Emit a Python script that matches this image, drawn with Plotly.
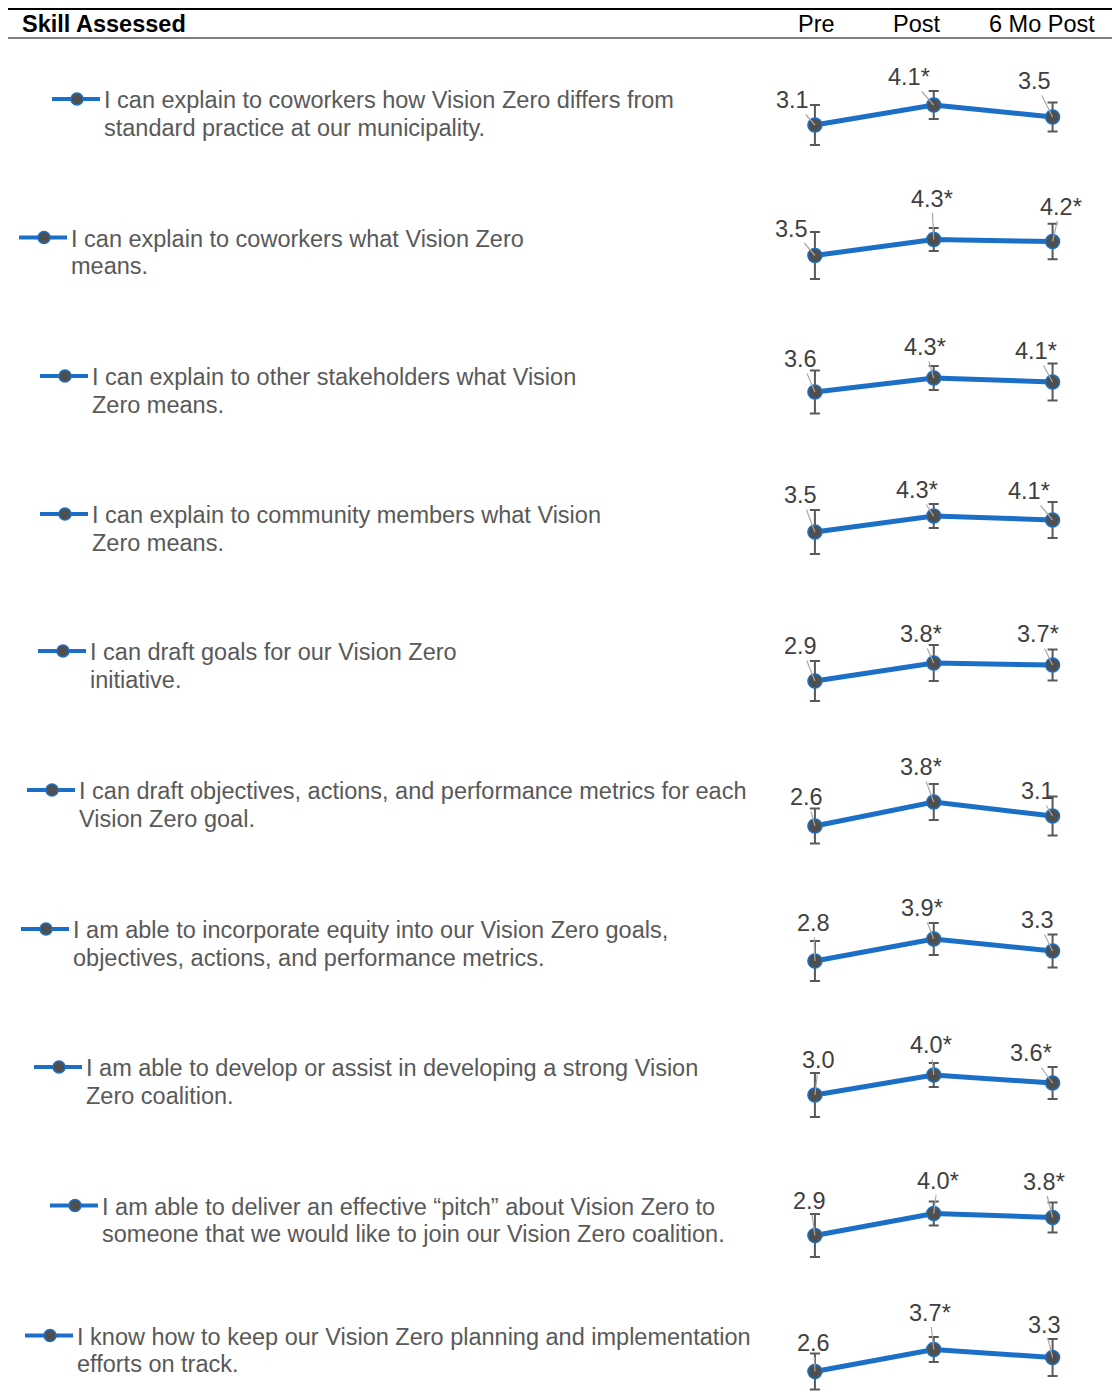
import plotly.graph_objects as go

# ---- data -------------------------------------------------------------
skills = [
    ["I can explain to coworkers how Vision Zero differs from", "standard practice at our municipality."],
    ["I can explain to coworkers what Vision Zero", "means."],
    ["I can explain to other stakeholders what Vision", "Zero means."],
    ["I can explain to community members what Vision", "Zero means."],
    ["I can draft goals for our Vision Zero", "initiative."],
    ["I can draft objectives, actions, and performance metrics for each", "Vision Zero goal."],
    ["I am able to incorporate equity into our Vision Zero goals,", "objectives, actions, and performance metrics."],
    ["I am able to develop or assist in developing a strong Vision", "Zero coalition."],
    ["I am able to deliver an effective \u201cpitch\u201d about Vision Zero to",
     "someone that we would like to join our Vision Zero coalition."],
    ["I know how to keep our Vision Zero planning and implementation", "efforts on track."],
]
periods = ["Pre", "Post", "6 Mo Post"]

pre_mean = [3.1, 3.5, 3.6, 3.5, 2.9, 2.6, 2.8, 3.0, 2.9, 2.6]
post_mean = [4.1, 4.3, 4.3, 4.3, 3.8, 3.8, 3.9, 4.0, 4.0, 3.7]
six_mo_mean = [3.5, 4.2, 4.1, 4.1, 3.7, 3.1, 3.3, 3.6, 3.8, 3.3]

pre_err = [1.0, 1.18, 1.08, 1.1, 1.0, 0.88, 1.0, 1.1, 1.08, 0.9]
post_err = [0.7, 0.58, 0.6, 0.6, 0.9, 0.9, 0.8, 0.6, 0.6, 0.62]
six_mo_err = [0.72, 0.89, 0.92, 0.9, 0.77, 0.97, 0.83, 0.8, 0.75, 0.93]

# significance vs. Pre (shown with an asterisk)
post_sig = [True] * 10
six_mo_sig = [False, True, True, True, True, False, False, True, True, False]

# ---- layout geometry (pixels) -----------------------------------------
W, H = 1112, 1393
row_anchor_px = [107, 245.5, 384, 522, 659, 798, 937, 1075, 1213.5, 1343.5]  # where y = 4 sits
text_x_px = [104, 71, 92, 92, 90, 79, 73, 86, 102, 77]
first_line_offset = -7   # first text line relative to anchor
line_gap = 27.5
px_per_unit = 20.0
top_px, bottom_px = 40, 48  # plot extent above / below the anchor

# label offsets (text centre relative to the point, pixels)
label_offsets = [
    [(-25, -25), (-28, -28), (-21, -36)],
    [(-26, -27), (-5, -41), (5, -35)],
    [(-17, -33), (-12, -31), (-20, -31)],
    [(-17, -37), (-20, -26), (-27, -29)],
    [(-17, -35), (-16, -29), (-18, -31)],
    [(-11, -29), (-16, -35), (-18, -25)],
    [(-4, -38), (-15, -31), (-18, -31)],
    [(1, -35), (-6, -30), (-25, -30)],
    [(-8, -35), (1, -33), (-12, -36)],
    [(-4, -29), (-7, -37), (-11, -33)],
]
label_dx = 3

BLUE = "#1c6fc7"
DOT = "#4f4f4f"
ERR = "#595959"
TXT = "#595959"
VAL = "#404040"
FONT = "Liberation Sans, Arial, sans-serif"
FS = 23.5


def xp(px):
    return px / W


def yp(py):
    return 1 - py / H


fig = go.Figure()
annotations = []
shapes = []
layout_axes = {}

for i in range(len(skills)):
    yname = "y" if i == 0 else f"y{i + 1}"
    axkey = "yaxis" if i == 0 else f"yaxis{i + 1}"
    anchor = row_anchor_px[i]
    lo = 4 - bottom_px / px_per_unit
    hi = 4 + top_px / px_per_unit
    layout_axes[axkey] = dict(
        domain=[yp(anchor + bottom_px), yp(anchor - top_px)],
        range=[lo, hi],
        visible=False,
        fixedrange=True,
        anchor="x",
    )
    means = [pre_mean[i], post_mean[i], six_mo_mean[i]]
    errs = [pre_err[i], post_err[i], six_mo_err[i]]
    fig.add_trace(go.Scatter(
        x=periods, y=means, xaxis="x", yaxis=yname,
        mode="lines+markers",
        line=dict(color=BLUE, width=5),
        marker=dict(size=14, color=DOT, line=dict(color=BLUE, width=1.5)),
        error_y=dict(type="data", array=errs, visible=True,
                     color=ERR, thickness=2, width=5),
        cliponaxis=False,
        showlegend=False,
        hoverinfo="skip",
    ))

    sigs = [False, post_sig[i], six_mo_sig[i]]
    for j, (period, v) in enumerate(zip(periods, means)):
        label = f"{v:.1f}" + ("*" if sigs[j] else "")
        ax, ay = label_offsets[i][j]
        annotations.append(dict(
            x=period, y=v, xref="x", yref=yname,
            text=label, showarrow=True, arrowhead=0, arrowwidth=1.2,
            arrowcolor="#a8a8a8", ax=ax + label_dx, ay=ay, axref="pixel", ayref="pixel",
            standoff=0, startstandoff=0,
            font=dict(family=FONT, size=FS, color=VAL),
        ))

    # skill text with a small line/marker key
    tx = text_x_px[i]
    line_y = anchor + first_line_offset
    for k, line in enumerate(skills[i]):
        annotations.append(dict(
            x=xp(tx - 2), y=yp(line_y + k * line_gap), xref="paper", yref="paper",
            xanchor="left", yanchor="middle", align="left", showarrow=False,
            text=line, font=dict(family=FONT, size=FS, color=TXT),
        ))
    key_y = anchor - 8
    shapes.append(dict(type="line", xref="paper", yref="paper",
                       x0=xp(tx - 52), x1=xp(tx - 4), y0=yp(key_y), y1=yp(key_y),
                       line=dict(color=BLUE, width=4)))
    shapes.append(dict(type="circle", xref="paper", yref="paper",
                       x0=xp(tx - 33), x1=xp(tx - 21), y0=yp(key_y + 6), y1=yp(key_y - 6),
                       fillcolor=DOT, line=dict(color=BLUE, width=1.5)))

# header
header_y = 24
annotations.append(dict(x=xp(20), y=yp(header_y), xref="paper", yref="paper",
                        xanchor="left", yanchor="middle", showarrow=False,
                        text="<b>Skill Assessed</b>",
                        font=dict(family=FONT, size=FS, color="black")))
for label, cx in zip(periods, [816, 916, 1042]):
    annotations.append(dict(x=xp(cx), y=yp(header_y), xref="paper", yref="paper",
                            xanchor="center", yanchor="middle", showarrow=False,
                            text=label, font=dict(family=FONT, size=FS, color="black")))
shapes.append(dict(type="line", xref="paper", yref="paper", x0=xp(8), x1=1,
                   y0=yp(9), y1=yp(9), line=dict(color="black", width=2)))
shapes.append(dict(type="line", xref="paper", yref="paper", x0=xp(8), x1=1,
                   y0=yp(38), y1=yp(38), line=dict(color="black", width=1)))

fig.update_layout(
    width=W, height=H, autosize=False,
    margin=dict(l=0, r=0, t=0, b=0),
    paper_bgcolor="white", plot_bgcolor="rgba(0,0,0,0)",
    xaxis=dict(domain=[(815 - 59.5) / W, 1], range=[-0.5, 2.5], type="category",
               categoryorder="array", categoryarray=periods,
               visible=False, fixedrange=True),
    annotations=annotations,
    shapes=shapes,
    **layout_axes,
)

fig.write_html("out.html")
